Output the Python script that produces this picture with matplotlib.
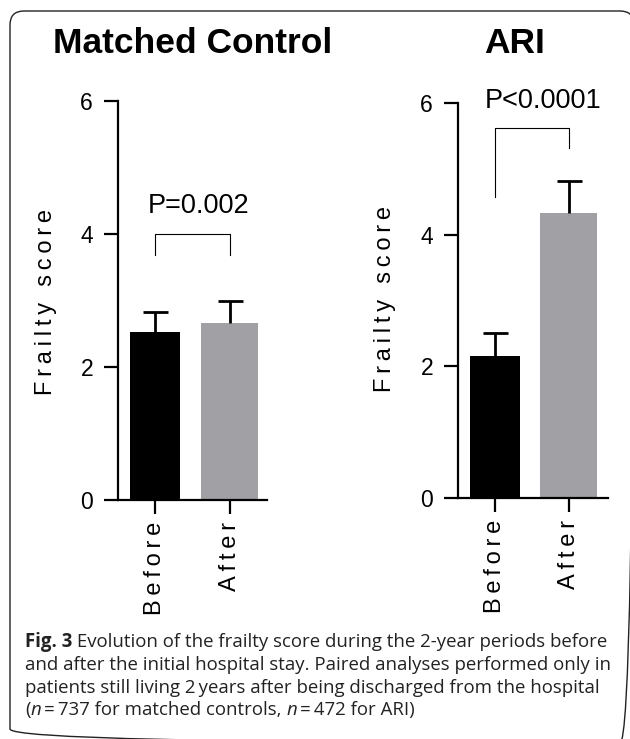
import numpy as np
import matplotlib
matplotlib.use("Agg")
import matplotlib.pyplot as plt
from matplotlib.patches import FancyBboxPatch

# ---- data ----
groups = ["Before", "After"]
control_means = [2.52, 2.66]
control_err = [0.30, 0.33]
ari_means = [2.16, 4.33]
ari_err = [0.35, 0.49]
control_p = "P=0.002"
ari_p = "P<0.0001"
yticks = [0, 2, 4, 6]

caption_lines = [
    [("Fig. 3", "bold", "normal"), (" Evolution of the frailty score during the 2-year periods before", "normal", "normal")],
    [("and after the initial hospital stay. Paired analyses performed only in", "normal", "normal")],
    [("patients still living 2\u2009years after being discharged from the hospital", "normal", "normal")],
    [("(", "normal", "normal"), ("n", "normal", "italic"), ("\u2009=\u2009737 for matched controls, ", "normal", "normal"),
     ("n", "normal", "italic"), ("\u2009=\u2009472 for ARI)", "normal", "normal")],
]

W, H = 630, 739
fig = plt.figure(figsize=(W / 100, H / 100), dpi=100)

# background axes in pixel coords for frame / titles / caption
bg = fig.add_axes([0, 0, 1, 1])
bg.set_xlim(0, W)
bg.set_ylim(H, 0)
bg.axis("off")
bg.add_patch(FancyBboxPatch((10, 11), 634 - 10, 743 - 11,
                            boxstyle="round,pad=0,rounding_size=14",
                            fc="none", ec="#222222", lw=1.0, clip_on=False))

label_font = ["Liberation Sans", "DejaVu Sans"]
BAR_COLORS = ["black", "#a1a1a5"]
BAR_WIDTHS = [0.67, 0.77]


def spaced(s):
    return "\u2009".join(s)


def px_axes(x0, x1, ytop, ybot):
    return fig.add_axes([x0 / W, 1 - ybot / H, (x1 - x0) / W, (ybot - ytop) / H])


def draw_panel(ax, means, errs, xlim, pval, ptext_xy, bracket):
    x = np.arange(len(groups))
    for i in range(len(groups)):
        ax.bar(x[i], means[i], width=BAR_WIDTHS[i], color=BAR_COLORS[i], zorder=2)
        eb = ax.errorbar(x[i], means[i], yerr=[[0], [errs[i]]], fmt="none", ecolor="black",
                         elinewidth=2.0, capsize=9, capthick=2.0, zorder=3)
        # keep only the upper cap
        for cap in eb[1]:
            if np.allclose(cap.get_ydata(), means[i]):
                cap.set_visible(False)
    ax.set_xlim(*xlim)
    ax.set_ylim(0, 6)
    ax.set_yticks(yticks)
    ax.set_xticks(x)
    ax.set_xticklabels([spaced(g) for g in groups], rotation=90, fontsize=17,
                       family=label_font, va="top")
    for lab in ax.get_yticklabels():
        lab.set_fontsize(16.5)
        lab.set_family(label_font)
    for s in ["top", "right"]:
        ax.spines[s].set_visible(False)
    for s in ["left", "bottom"]:
        ax.spines[s].set_linewidth(1.6)
    ax.tick_params(axis="both", direction="out", length=10, width=1.6)
    ax.tick_params(axis="y", pad=8)
    ax.tick_params(axis="x", pad=6)
    ax.patch.set_alpha(0)
    # significance bracket
    top, left_end, right_end = bracket
    ax.plot([0, 0, 1, 1], [left_end, top, top, right_end], color="black", lw=0.8,
            clip_on=False, zorder=3)
    ax.text(ptext_xy[0], ptext_xy[1], pval, ha="center", va="baseline", fontsize=19.5,
            family=label_font)


ax1 = px_axes(118, 267, 101, 500)
draw_panel(ax1, control_means, control_err, (-0.5, 1.5), control_p, (0.58, 4.32),
           (4.0, 3.69, 3.69))
ax2 = px_axes(458, 608, 103, 498)
draw_panel(ax2, ari_means, ari_err, (-0.5, 1.53), ari_p, (0.65, 5.93),
           (5.62, 4.57, 5.32))

# titles and y labels
bg.text(193, 53, "Matched Control", ha="center", va="baseline", fontsize=25.5,
        fontweight="bold", family=label_font)
bg.text(515, 53, "ARI", ha="center", va="baseline", fontsize=25.5,
        fontweight="bold", family=label_font)
for xc, yc in [(46, 302), (385, 299)]:
    bg.text(xc, yc, spaced("Frailty") + "\u2009 \u2009" + spaced("score"), rotation=90,
            ha="center", va="center", fontsize=17, family=label_font)

# caption, drawn piece by piece
cap_font = ["Open Sans", "DejaVu Sans"]
cap_size = 13.4
baselines = [647, 670, 693, 715]
fig.canvas.draw()
renderer = fig.canvas.get_renderer()
for line, yb in zip(caption_lines, baselines):
    xc = 25
    for txt, weight, style in line:
        t = bg.text(xc, yb, txt, ha="left", va="baseline", fontsize=cap_size,
                    fontweight=weight, fontstyle=style, family=cap_font, color="#222222")
        bb = t.get_window_extent(renderer=renderer)
        xc += bb.width

fig.savefig("out.png", dpi=100)
